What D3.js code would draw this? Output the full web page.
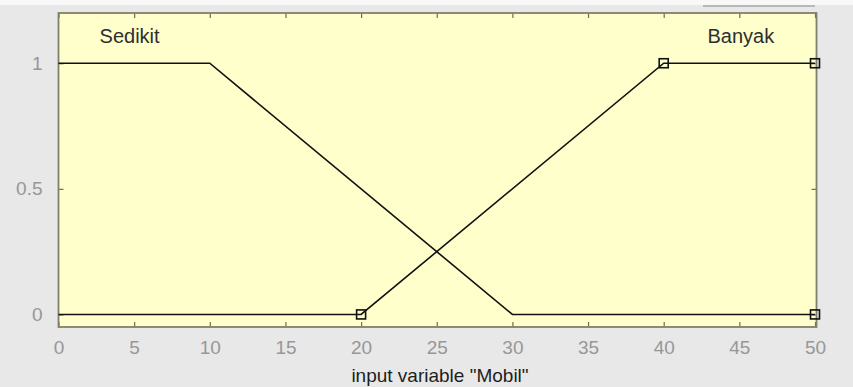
<!DOCTYPE html>
<html><head><meta charset="utf-8">
<script src="https://cdn.jsdelivr.net/npm/d3@7"></script>
<style>
html,body{margin:0;padding:0;background:#e8e8e8;}
svg{display:block;}
</style></head>
<body>
<svg id="chart" width="853" height="387"></svg>
<script>
const xTicks = [0,5,10,15,20,25,30,35,40,45,50];
const yTicks = [0,0.5,1];
const yTickLabels = ["0","0.5","1"];
const sedikitX = [0,10,30,50];
const sedikitY = [1,1,0,0];
const banyakX = [0,20,40,50];
const banyakY = [0,0,1,1];
const markerX = [20,40,50,50];
const markerY = [0,1,1,0];
const mfNames = ["Sedikit","Banyak"];
const mfLabelX = [4.7,45.1];
const xLabel = 'input variable "Mobil"';

const FONT = "Liberation Sans, Arial, sans-serif";
const svg = d3.select("#chart");
const L = 58.5, R = 816.5, T = 13, B = 327;
const x = d3.scaleLinear().domain([0,50]).range([L, 815]);
const y = d3.scaleLinear().domain([-0.05,1.2]).range([B, T]);

svg.append("rect").attr("x",0).attr("y",0).attr("width",853).attr("height",5).attr("fill","#f8f8f8");
svg.append("rect").attr("x",703).attr("y",5).attr("width",112).attr("height",2).attr("fill","#b8b8b8");
svg.append("rect").attr("x",L).attr("y",T).attr("width",R-L).attr("height",B-T).attr("fill","#ffffcc");

const tickColor = "#6e6e50";
const xb = d3.axisBottom(x).tickValues(xTicks).tickSize(-5).tickPadding(14).tickFormat(d3.format("d"));
const gxb = svg.append("g").attr("transform",`translate(0,${B})`).call(xb);
const xt = d3.axisTop(x).tickValues(xTicks).tickSize(-5).tickFormat("");
const gxt = svg.append("g").attr("transform",`translate(0,${T})`).call(xt);
const yl = d3.axisLeft(y).tickValues(yTicks).tickSize(-5).tickPadding(16).tickFormat((d,i)=>yTickLabels[i]);
const gyl = svg.append("g").attr("transform",`translate(${L},0)`).call(yl);
const yr = d3.axisRight(y).tickValues(yTicks).tickSize(-5).tickFormat("");
const gyr = svg.append("g").attr("transform",`translate(${R},0)`).call(yr);
[gxb,gxt,gyl,gyr].forEach(g=>{
  g.select(".domain").remove();
  g.selectAll(".tick line").attr("stroke",tickColor).attr("stroke-width",1.2);
  g.selectAll("text").attr("fill","#979797").attr("font-family",FONT).attr("font-size",19);
});
svg.append("rect").attr("x",L).attr("y",T).attr("width",R-L).attr("height",B-T).attr("fill","none").attr("stroke","#80806a").attr("stroke-width",1.8);

const line = d3.line().x(d=>x(d[0])).y(d=>y(d[1]));
svg.append("path").datum(d3.zip(sedikitX,sedikitY)).attr("d",line).attr("fill","none").attr("stroke","#111").attr("stroke-width",1.6);
svg.append("path").datum(d3.zip(banyakX,banyakY)).attr("d",line).attr("fill","none").attr("stroke","#111").attr("stroke-width",1.6);

svg.selectAll("rect.mk").data(d3.zip(markerX,markerY)).enter().append("rect").attr("class","mk")
  .attr("x",d=>x(d[0])-4.5).attr("y",d=>y(d[1])-4.5).attr("width",9).attr("height",9)
  .attr("fill","none").attr("stroke","#111").attr("stroke-width",1.6);

svg.selectAll("text.mf").data(mfNames).enter().append("text").attr("class","mf")
  .attr("x",(d,i)=>x(mfLabelX[i])).attr("y",43).attr("text-anchor","middle")
  .attr("font-family",FONT).attr("font-size",20).attr("fill","#2e2e2e").text(d=>d);

svg.append("text").attr("x",440).attr("y",382).attr("text-anchor","middle")
  .attr("font-family",FONT).attr("font-size",19).attr("fill","#1e1e1e").text(xLabel);
</script>
</body></html>
